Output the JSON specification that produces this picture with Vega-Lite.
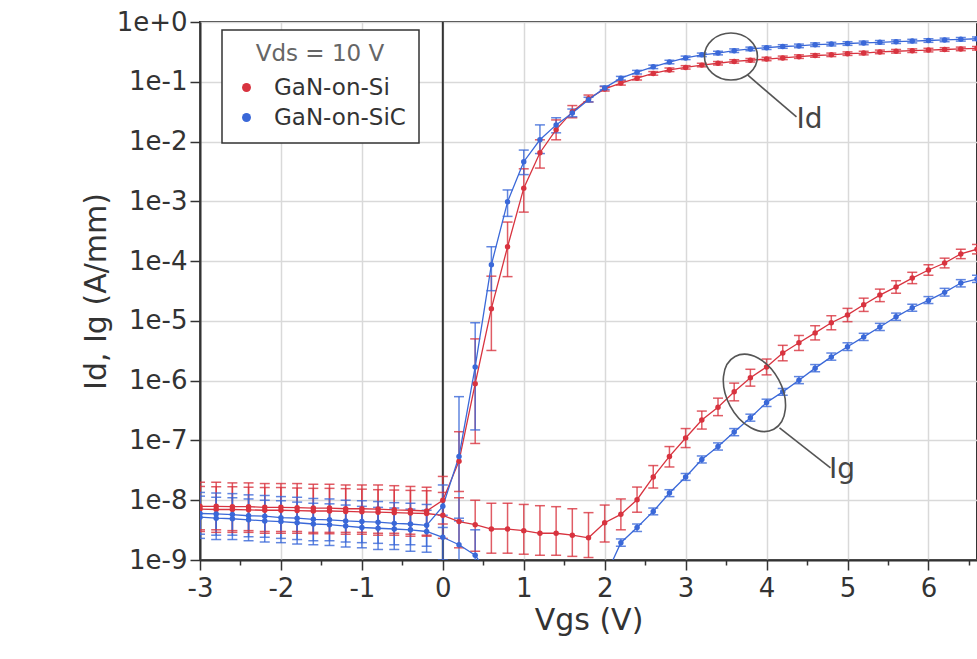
{
  "$schema": "https://vega.github.io/schema/vega-lite/v6.json",
  "autosize": {"type": "none"},
  "padding": {"left": 200, "top": 22, "right": 0, "bottom": 99},
  "width": 777,
  "height": 538,
  "background": "white",
  "config": {
    "font": "DejaVu Sans",
    "view": {"stroke": "#333333", "strokeWidth": 2},
    "axis": {
      "domainColor": "#333333",
      "domainWidth": 2,
      "tickColor": "#333333",
      "tickWidth": 1.5,
      "gridColor": "#d9d9d9",
      "gridWidth": 1.5,
      "labelFont": "DejaVu Sans",
      "labelFontSize": 26,
      "labelColor": "#333333",
      "titleFont": "DejaVu Sans",
      "titleFontSize": 30,
      "titleFontWeight": "normal",
      "titleColor": "#333333",
      "labelOverlap": false
    },
    "legend": {
      "fillColor": "white",
      "strokeColor": "#333333",
      "strokeWidth": 1.5,
      "padding": 13,
      "titleFont": "DejaVu Sans",
      "titleFontSize": 23,
      "titleFontWeight": "normal",
      "titleColor": "#666666",
      "titleAnchor": "middle",
      "titleAlign": "center",
      "titlePadding": 10,
      "labelFont": "DejaVu Sans",
      "labelFontSize": 23,
      "labelColor": "#333333",
      "labelOffset": 16,
      "rowPadding": 6,
      "symbolSize": 80,
      "symbolStrokeWidth": 0,
      "symbolOpacity": 1
    }
  },
  "datasets": {
    "iv": [
      {"v": -3, "s": "GaN-on-Si", "q": "Id", "i": 7.9e-9, "lo": 3.2e-9, "hi": 2.0e-8},
      {"v": -2.8, "s": "GaN-on-Si", "q": "Id", "i": 7.9e-9, "lo": 3.2e-9, "hi": 2.0e-8},
      {"v": -2.6, "s": "GaN-on-Si", "q": "Id", "i": 7.8e-9, "lo": 3.1e-9, "hi": 1.95e-8},
      {"v": -2.4, "s": "GaN-on-Si", "q": "Id", "i": 7.8e-9, "lo": 3.1e-9, "hi": 1.95e-8},
      {"v": -2.2, "s": "GaN-on-Si", "q": "Id", "i": 7.6e-9, "lo": 3.0e-9, "hi": 1.9e-8},
      {"v": -2, "s": "GaN-on-Si", "q": "Id", "i": 7.6e-9, "lo": 3.0e-9, "hi": 1.9e-8},
      {"v": -1.8, "s": "GaN-on-Si", "q": "Id", "i": 7.5e-9, "lo": 3.0e-9, "hi": 1.9e-8},
      {"v": -1.6, "s": "GaN-on-Si", "q": "Id", "i": 7.4e-9, "lo": 2.9e-9, "hi": 1.85e-8},
      {"v": -1.4, "s": "GaN-on-Si", "q": "Id", "i": 7.4e-9, "lo": 2.9e-9, "hi": 1.85e-8},
      {"v": -1.2, "s": "GaN-on-Si", "q": "Id", "i": 7.2e-9, "lo": 2.9e-9, "hi": 1.8e-8},
      {"v": -1, "s": "GaN-on-Si", "q": "Id", "i": 7.2e-9, "lo": 2.9e-9, "hi": 1.8e-8},
      {"v": -0.8, "s": "GaN-on-Si", "q": "Id", "i": 7.1e-9, "lo": 2.8e-9, "hi": 1.8e-8},
      {"v": -0.6, "s": "GaN-on-Si", "q": "Id", "i": 6.9e-9, "lo": 2.8e-9, "hi": 1.75e-8},
      {"v": -0.4, "s": "GaN-on-Si", "q": "Id", "i": 6.8e-9, "lo": 2.7e-9, "hi": 1.7e-8},
      {"v": -0.2, "s": "GaN-on-Si", "q": "Id", "i": 6.6e-9, "lo": 2.6e-9, "hi": 1.65e-8},
      {"v": 0, "s": "GaN-on-Si", "q": "Id", "i": 1.0e-8, "lo": 4.0e-9, "hi": 2.5e-8},
      {"v": 0.2, "s": "GaN-on-Si", "q": "Id", "i": 4.5e-8, "lo": 1.4e-8, "hi": 1.4e-7},
      {"v": 0.4, "s": "GaN-on-Si", "q": "Id", "i": 8.9e-7, "lo": 8.9e-8, "hi": 5.0e-6},
      {"v": 0.6, "s": "GaN-on-Si", "q": "Id", "i": 1.6e-5, "lo": 3.2e-6, "hi": 5.6e-5},
      {"v": 0.8, "s": "GaN-on-Si", "q": "Id", "i": 1.74e-4, "lo": 5.5e-5, "hi": 4.5e-4},
      {"v": 1, "s": "GaN-on-Si", "q": "Id", "i": 1.66e-3, "lo": 6.6e-4, "hi": 3.5e-3},
      {"v": 1.2, "s": "GaN-on-Si", "q": "Id", "i": 6.5e-3, "lo": 3.6e-3, "hi": 1.07e-2},
      {"v": 1.4, "s": "GaN-on-Si", "q": "Id", "i": 1.58e-2, "lo": 1.07e-2, "hi": 2.3e-2},
      {"v": 1.6, "s": "GaN-on-Si", "q": "Id", "i": 3.16e-2, "lo": 2.5e-2, "hi": 4.0e-2},
      {"v": 1.8, "s": "GaN-on-Si", "q": "Id", "i": 5.2e-2, "lo": 4.6e-2, "hi": 6.0e-2},
      {"v": 2, "s": "GaN-on-Si", "q": "Id", "i": 7.6e-2, "lo": 7.0e-2, "hi": 8.3e-2},
      {"v": 2.2, "s": "GaN-on-Si", "q": "Id", "i": 9.5e-2, "lo": 8.8e-2, "hi": 0.103},
      {"v": 2.4, "s": "GaN-on-Si", "q": "Id", "i": 0.115, "lo": 0.107, "hi": 0.123},
      {"v": 2.6, "s": "GaN-on-Si", "q": "Id", "i": 0.138, "lo": 0.129, "hi": 0.148},
      {"v": 2.8, "s": "GaN-on-Si", "q": "Id", "i": 0.158, "lo": 0.148, "hi": 0.17},
      {"v": 3, "s": "GaN-on-Si", "q": "Id", "i": 0.174, "lo": 0.163, "hi": 0.186},
      {"v": 3.2, "s": "GaN-on-Si", "q": "Id", "i": 0.19, "lo": 0.178, "hi": 0.204},
      {"v": 3.4, "s": "GaN-on-Si", "q": "Id", "i": 0.204, "lo": 0.191, "hi": 0.218},
      {"v": 3.6, "s": "GaN-on-Si", "q": "Id", "i": 0.219, "lo": 0.205, "hi": 0.234},
      {"v": 3.8, "s": "GaN-on-Si", "q": "Id", "i": 0.229, "lo": 0.214, "hi": 0.245},
      {"v": 4, "s": "GaN-on-Si", "q": "Id", "i": 0.24, "lo": 0.225, "hi": 0.257},
      {"v": 4.2, "s": "GaN-on-Si", "q": "Id", "i": 0.251, "lo": 0.235, "hi": 0.269},
      {"v": 4.4, "s": "GaN-on-Si", "q": "Id", "i": 0.263, "lo": 0.246, "hi": 0.282},
      {"v": 4.6, "s": "GaN-on-Si", "q": "Id", "i": 0.275, "lo": 0.257, "hi": 0.295},
      {"v": 4.8, "s": "GaN-on-Si", "q": "Id", "i": 0.282, "lo": 0.264, "hi": 0.302},
      {"v": 5, "s": "GaN-on-Si", "q": "Id", "i": 0.295, "lo": 0.276, "hi": 0.316},
      {"v": 5.2, "s": "GaN-on-Si", "q": "Id", "i": 0.302, "lo": 0.282, "hi": 0.324},
      {"v": 5.4, "s": "GaN-on-Si", "q": "Id", "i": 0.316, "lo": 0.295, "hi": 0.339},
      {"v": 5.6, "s": "GaN-on-Si", "q": "Id", "i": 0.324, "lo": 0.302, "hi": 0.347},
      {"v": 5.8, "s": "GaN-on-Si", "q": "Id", "i": 0.331, "lo": 0.309, "hi": 0.355},
      {"v": 6, "s": "GaN-on-Si", "q": "Id", "i": 0.339, "lo": 0.316, "hi": 0.363},
      {"v": 6.2, "s": "GaN-on-Si", "q": "Id", "i": 0.347, "lo": 0.324, "hi": 0.372},
      {"v": 6.4, "s": "GaN-on-Si", "q": "Id", "i": 0.355, "lo": 0.331, "hi": 0.38},
      {"v": 6.6, "s": "GaN-on-Si", "q": "Id", "i": 0.363, "lo": 0.339, "hi": 0.389},

      {"v": -3, "s": "GaN-on-Si", "q": "Ig", "i": 7.1e-9, "lo": 3.0e-9, "hi": 1.7e-8},
      {"v": -2.8, "s": "GaN-on-Si", "q": "Ig", "i": 7.0e-9, "lo": 2.9e-9, "hi": 1.68e-8},
      {"v": -2.6, "s": "GaN-on-Si", "q": "Ig", "i": 7.0e-9, "lo": 2.9e-9, "hi": 1.68e-8},
      {"v": -2.4, "s": "GaN-on-Si", "q": "Ig", "i": 6.9e-9, "lo": 2.9e-9, "hi": 1.65e-8},
      {"v": -2.2, "s": "GaN-on-Si", "q": "Ig", "i": 6.8e-9, "lo": 2.8e-9, "hi": 1.63e-8},
      {"v": -2, "s": "GaN-on-Si", "q": "Ig", "i": 6.8e-9, "lo": 2.8e-9, "hi": 1.63e-8},
      {"v": -1.8, "s": "GaN-on-Si", "q": "Ig", "i": 6.7e-9, "lo": 2.8e-9, "hi": 1.6e-8},
      {"v": -1.6, "s": "GaN-on-Si", "q": "Ig", "i": 6.6e-9, "lo": 2.75e-9, "hi": 1.58e-8},
      {"v": -1.4, "s": "GaN-on-Si", "q": "Ig", "i": 6.6e-9, "lo": 2.75e-9, "hi": 1.58e-8},
      {"v": -1.2, "s": "GaN-on-Si", "q": "Ig", "i": 6.5e-9, "lo": 2.7e-9, "hi": 1.56e-8},
      {"v": -1, "s": "GaN-on-Si", "q": "Ig", "i": 6.4e-9, "lo": 2.7e-9, "hi": 1.53e-8},
      {"v": -0.8, "s": "GaN-on-Si", "q": "Ig", "i": 6.3e-9, "lo": 2.6e-9, "hi": 1.5e-8},
      {"v": -0.6, "s": "GaN-on-Si", "q": "Ig", "i": 6.2e-9, "lo": 2.6e-9, "hi": 1.48e-8},
      {"v": -0.4, "s": "GaN-on-Si", "q": "Ig", "i": 6.1e-9, "lo": 2.5e-9, "hi": 1.46e-8},
      {"v": -0.2, "s": "GaN-on-Si", "q": "Ig", "i": 6.0e-9, "lo": 2.5e-9, "hi": 1.44e-8},
      {"v": 0, "s": "GaN-on-Si", "q": "Ig", "i": 5.6e-9, "lo": 2.3e-9, "hi": 1.35e-8},
      {"v": 0.2, "s": "GaN-on-Si", "q": "Ig", "i": 4.4e-9, "lo": 1.6e-9, "hi": 1.1e-8},
      {"v": 0.4, "s": "GaN-on-Si", "q": "Ig", "i": 3.9e-9, "lo": 1.4e-9, "hi": 1.0e-8},
      {"v": 0.6, "s": "GaN-on-Si", "q": "Ig", "i": 3.3e-9, "lo": 1.3e-9, "hi": 8.9e-9},
      {"v": 0.8, "s": "GaN-on-Si", "q": "Ig", "i": 3.3e-9, "lo": 1.3e-9, "hi": 8.9e-9},
      {"v": 1, "s": "GaN-on-Si", "q": "Ig", "i": 3.1e-9, "lo": 1.25e-9, "hi": 8.5e-9},
      {"v": 1.2, "s": "GaN-on-Si", "q": "Ig", "i": 2.8e-9, "lo": 1.2e-9, "hi": 8.1e-9},
      {"v": 1.4, "s": "GaN-on-Si", "q": "Ig", "i": 2.8e-9, "lo": 1.2e-9, "hi": 7.8e-9},
      {"v": 1.6, "s": "GaN-on-Si", "q": "Ig", "i": 2.6e-9, "lo": 1.15e-9, "hi": 7.2e-9},
      {"v": 1.8, "s": "GaN-on-Si", "q": "Ig", "i": 2.35e-9, "lo": 1.1e-9, "hi": 6.2e-9},
      {"v": 2, "s": "GaN-on-Si", "q": "Ig", "i": 4.2e-9, "lo": 2.0e-9, "hi": 8.3e-9},
      {"v": 2.2, "s": "GaN-on-Si", "q": "Ig", "i": 5.8e-9, "lo": 3.2e-9, "hi": 1.05e-8},
      {"v": 2.4, "s": "GaN-on-Si", "q": "Ig", "i": 1.02e-8, "lo": 6.3e-9, "hi": 1.66e-8},
      {"v": 2.6, "s": "GaN-on-Si", "q": "Ig", "i": 2.45e-8, "lo": 1.6e-8, "hi": 3.8e-8},
      {"v": 2.8, "s": "GaN-on-Si", "q": "Ig", "i": 5.4e-8, "lo": 3.6e-8, "hi": 7.9e-8},
      {"v": 3, "s": "GaN-on-Si", "q": "Ig", "i": 1.1e-7, "lo": 7.6e-8, "hi": 1.58e-7},
      {"v": 3.2, "s": "GaN-on-Si", "q": "Ig", "i": 2.2e-7, "lo": 1.55e-7, "hi": 3.1e-7},
      {"v": 3.4, "s": "GaN-on-Si", "q": "Ig", "i": 3.6e-7, "lo": 2.6e-7, "hi": 5.1e-7},
      {"v": 3.6, "s": "GaN-on-Si", "q": "Ig", "i": 6.5e-7, "lo": 4.6e-7, "hi": 9.1e-7},
      {"v": 3.8, "s": "GaN-on-Si", "q": "Ig", "i": 1.12e-6, "lo": 8.1e-7, "hi": 1.55e-6},
      {"v": 4, "s": "GaN-on-Si", "q": "Ig", "i": 1.7e-6, "lo": 1.25e-6, "hi": 2.3e-6},
      {"v": 4.2, "s": "GaN-on-Si", "q": "Ig", "i": 2.9e-6, "lo": 2.15e-6, "hi": 3.9e-6},
      {"v": 4.4, "s": "GaN-on-Si", "q": "Ig", "i": 4.3e-6, "lo": 3.2e-6, "hi": 5.7e-6},
      {"v": 4.6, "s": "GaN-on-Si", "q": "Ig", "i": 6.3e-6, "lo": 4.8e-6, "hi": 8.3e-6},
      {"v": 4.8, "s": "GaN-on-Si", "q": "Ig", "i": 9.3e-6, "lo": 7.1e-6, "hi": 1.22e-5},
      {"v": 5, "s": "GaN-on-Si", "q": "Ig", "i": 1.26e-5, "lo": 9.7e-6, "hi": 1.62e-5},
      {"v": 5.2, "s": "GaN-on-Si", "q": "Ig", "i": 1.86e-5, "lo": 1.44e-5, "hi": 2.4e-5},
      {"v": 5.4, "s": "GaN-on-Si", "q": "Ig", "i": 2.7e-5, "lo": 2.1e-5, "hi": 3.4e-5},
      {"v": 5.6, "s": "GaN-on-Si", "q": "Ig", "i": 3.7e-5, "lo": 2.9e-5, "hi": 4.7e-5},
      {"v": 5.8, "s": "GaN-on-Si", "q": "Ig", "i": 5.2e-5, "lo": 4.2e-5, "hi": 6.5e-5},
      {"v": 6, "s": "GaN-on-Si", "q": "Ig", "i": 7.1e-5, "lo": 5.8e-5, "hi": 8.7e-5},
      {"v": 6.2, "s": "GaN-on-Si", "q": "Ig", "i": 9.3e-5, "lo": 7.7e-5, "hi": 1.12e-4},
      {"v": 6.4, "s": "GaN-on-Si", "q": "Ig", "i": 1.32e-4, "lo": 1.1e-4, "hi": 1.58e-4},
      {"v": 6.6, "s": "GaN-on-Si", "q": "Ig", "i": 1.58e-4, "lo": 1.32e-4, "hi": 1.9e-4},

      {"v": -3, "s": "GaN-on-SiC", "q": "Id", "i": 6.0e-9, "lo": 2.7e-9, "hi": 1.35e-8},
      {"v": -2.8, "s": "GaN-on-SiC", "q": "Id", "i": 5.9e-9, "lo": 2.6e-9, "hi": 1.32e-8},
      {"v": -2.6, "s": "GaN-on-SiC", "q": "Id", "i": 5.75e-9, "lo": 2.6e-9, "hi": 1.29e-8},
      {"v": -2.4, "s": "GaN-on-SiC", "q": "Id", "i": 5.5e-9, "lo": 2.45e-9, "hi": 1.23e-8},
      {"v": -2.2, "s": "GaN-on-SiC", "q": "Id", "i": 5.4e-9, "lo": 2.4e-9, "hi": 1.2e-8},
      {"v": -2, "s": "GaN-on-SiC", "q": "Id", "i": 5.1e-9, "lo": 2.3e-9, "hi": 1.15e-8},
      {"v": -1.8, "s": "GaN-on-SiC", "q": "Id", "i": 5.0e-9, "lo": 2.2e-9, "hi": 1.12e-8},
      {"v": -1.6, "s": "GaN-on-SiC", "q": "Id", "i": 4.8e-9, "lo": 2.1e-9, "hi": 1.07e-8},
      {"v": -1.4, "s": "GaN-on-SiC", "q": "Id", "i": 4.7e-9, "lo": 2.1e-9, "hi": 1.05e-8},
      {"v": -1.2, "s": "GaN-on-SiC", "q": "Id", "i": 4.5e-9, "lo": 2.0e-9, "hi": 1.0e-8},
      {"v": -1, "s": "GaN-on-SiC", "q": "Id", "i": 4.4e-9, "lo": 1.95e-9, "hi": 9.8e-9},
      {"v": -0.8, "s": "GaN-on-SiC", "q": "Id", "i": 4.3e-9, "lo": 1.9e-9, "hi": 9.5e-9},
      {"v": -0.6, "s": "GaN-on-SiC", "q": "Id", "i": 4.1e-9, "lo": 1.8e-9, "hi": 9.1e-9},
      {"v": -0.4, "s": "GaN-on-SiC", "q": "Id", "i": 4.0e-9, "lo": 1.8e-9, "hi": 8.9e-9},
      {"v": -0.2, "s": "GaN-on-SiC", "q": "Id", "i": 3.8e-9, "lo": 1.7e-9, "hi": 8.5e-9},
      {"v": 0, "s": "GaN-on-SiC", "q": "Id", "i": 7.9e-9, "lo": 3.5e-9, "hi": 1.8e-8},
      {"v": 0.2, "s": "GaN-on-SiC", "q": "Id", "i": 5.4e-8, "lo": 5.0e-9, "hi": 5.4e-7},
      {"v": 0.4, "s": "GaN-on-SiC", "q": "Id", "i": 1.7e-6, "lo": 1.5e-7, "hi": 9.3e-6},
      {"v": 0.6, "s": "GaN-on-SiC", "q": "Id", "i": 8.7e-5, "lo": 3.2e-5, "hi": 1.74e-4},
      {"v": 0.8, "s": "GaN-on-SiC", "q": "Id", "i": 9.8e-4, "lo": 5.6e-4, "hi": 1.55e-3},
      {"v": 1, "s": "GaN-on-SiC", "q": "Id", "i": 4.6e-3, "lo": 2.8e-3, "hi": 7.2e-3},
      {"v": 1.2, "s": "GaN-on-SiC", "q": "Id", "i": 1.07e-2, "lo": 6.3e-3, "hi": 1.9e-2},
      {"v": 1.4, "s": "GaN-on-SiC", "q": "Id", "i": 1.9e-2, "lo": 1.4e-2, "hi": 2.5e-2},
      {"v": 1.6, "s": "GaN-on-SiC", "q": "Id", "i": 3.0e-2, "lo": 2.6e-2, "hi": 3.5e-2},
      {"v": 1.8, "s": "GaN-on-SiC", "q": "Id", "i": 5.0e-2, "lo": 4.6e-2, "hi": 5.5e-2},
      {"v": 2, "s": "GaN-on-SiC", "q": "Id", "i": 7.9e-2, "lo": 7.4e-2, "hi": 8.5e-2},
      {"v": 2.2, "s": "GaN-on-SiC", "q": "Id", "i": 0.115, "lo": 0.107, "hi": 0.123},
      {"v": 2.4, "s": "GaN-on-SiC", "q": "Id", "i": 0.145, "lo": 0.135, "hi": 0.155},
      {"v": 2.6, "s": "GaN-on-SiC", "q": "Id", "i": 0.178, "lo": 0.166, "hi": 0.19},
      {"v": 2.8, "s": "GaN-on-SiC", "q": "Id", "i": 0.214, "lo": 0.2, "hi": 0.229},
      {"v": 3, "s": "GaN-on-SiC", "q": "Id", "i": 0.251, "lo": 0.235, "hi": 0.269},
      {"v": 3.2, "s": "GaN-on-SiC", "q": "Id", "i": 0.282, "lo": 0.264, "hi": 0.302},
      {"v": 3.4, "s": "GaN-on-SiC", "q": "Id", "i": 0.302, "lo": 0.282, "hi": 0.324},
      {"v": 3.6, "s": "GaN-on-SiC", "q": "Id", "i": 0.331, "lo": 0.309, "hi": 0.355},
      {"v": 3.8, "s": "GaN-on-SiC", "q": "Id", "i": 0.355, "lo": 0.331, "hi": 0.38},
      {"v": 4, "s": "GaN-on-SiC", "q": "Id", "i": 0.372, "lo": 0.347, "hi": 0.398},
      {"v": 4.2, "s": "GaN-on-SiC", "q": "Id", "i": 0.389, "lo": 0.363, "hi": 0.417},
      {"v": 4.4, "s": "GaN-on-SiC", "q": "Id", "i": 0.398, "lo": 0.372, "hi": 0.427},
      {"v": 4.6, "s": "GaN-on-SiC", "q": "Id", "i": 0.417, "lo": 0.389, "hi": 0.447},
      {"v": 4.8, "s": "GaN-on-SiC", "q": "Id", "i": 0.427, "lo": 0.398, "hi": 0.457},
      {"v": 5, "s": "GaN-on-SiC", "q": "Id", "i": 0.437, "lo": 0.407, "hi": 0.468},
      {"v": 5.2, "s": "GaN-on-SiC", "q": "Id", "i": 0.447, "lo": 0.417, "hi": 0.479},
      {"v": 5.4, "s": "GaN-on-SiC", "q": "Id", "i": 0.457, "lo": 0.427, "hi": 0.49},
      {"v": 5.6, "s": "GaN-on-SiC", "q": "Id", "i": 0.468, "lo": 0.437, "hi": 0.501},
      {"v": 5.8, "s": "GaN-on-SiC", "q": "Id", "i": 0.479, "lo": 0.447, "hi": 0.513},
      {"v": 6, "s": "GaN-on-SiC", "q": "Id", "i": 0.49, "lo": 0.457, "hi": 0.525},
      {"v": 6.2, "s": "GaN-on-SiC", "q": "Id", "i": 0.501, "lo": 0.468, "hi": 0.537},
      {"v": 6.4, "s": "GaN-on-SiC", "q": "Id", "i": 0.513, "lo": 0.479, "hi": 0.55},
      {"v": 6.6, "s": "GaN-on-SiC", "q": "Id", "i": 0.525, "lo": 0.49, "hi": 0.562},

      {"v": -3, "s": "GaN-on-SiC", "q": "Ig", "i": 5.2e-9, "lo": 2.3e-9, "hi": 1.17e-8},
      {"v": -2.8, "s": "GaN-on-SiC", "q": "Ig", "i": 5.0e-9, "lo": 2.2e-9, "hi": 1.12e-8},
      {"v": -2.6, "s": "GaN-on-SiC", "q": "Ig", "i": 4.9e-9, "lo": 2.2e-9, "hi": 1.1e-8},
      {"v": -2.4, "s": "GaN-on-SiC", "q": "Ig", "i": 4.7e-9, "lo": 2.1e-9, "hi": 1.05e-8},
      {"v": -2.2, "s": "GaN-on-SiC", "q": "Ig", "i": 4.5e-9, "lo": 2.0e-9, "hi": 1.0e-8},
      {"v": -2, "s": "GaN-on-SiC", "q": "Ig", "i": 4.4e-9, "lo": 1.95e-9, "hi": 9.8e-9},
      {"v": -1.8, "s": "GaN-on-SiC", "q": "Ig", "i": 4.2e-9, "lo": 1.85e-9, "hi": 9.3e-9},
      {"v": -1.6, "s": "GaN-on-SiC", "q": "Ig", "i": 4.0e-9, "lo": 1.8e-9, "hi": 8.9e-9},
      {"v": -1.4, "s": "GaN-on-SiC", "q": "Ig", "i": 3.9e-9, "lo": 1.75e-9, "hi": 8.7e-9},
      {"v": -1.2, "s": "GaN-on-SiC", "q": "Ig", "i": 3.7e-9, "lo": 1.65e-9, "hi": 8.3e-9},
      {"v": -1, "s": "GaN-on-SiC", "q": "Ig", "i": 3.5e-9, "lo": 1.6e-9, "hi": 7.9e-9},
      {"v": -0.8, "s": "GaN-on-SiC", "q": "Ig", "i": 3.4e-9, "lo": 1.5e-9, "hi": 7.6e-9},
      {"v": -0.6, "s": "GaN-on-SiC", "q": "Ig", "i": 3.3e-9, "lo": 1.5e-9, "hi": 7.4e-9},
      {"v": -0.4, "s": "GaN-on-SiC", "q": "Ig", "i": 3.2e-9, "lo": 1.4e-9, "hi": 7.1e-9},
      {"v": -0.2, "s": "GaN-on-SiC", "q": "Ig", "i": 3.0e-9, "lo": 1.35e-9, "hi": 6.8e-9},
      {"v": 0, "s": "GaN-on-SiC", "q": "Ig", "i": 2.4e-9, "lo": 1.0e-9, "hi": 5.6e-9},
      {"v": 0.2, "s": "GaN-on-SiC", "q": "Ig", "i": 1.8e-9, "lo": 7.0e-10, "hi": 4.5e-9},
      {"v": 0.4, "s": "GaN-on-SiC", "q": "Ig", "i": 1.2e-9, "lo": 4.0e-10, "hi": 3.2e-9},
      {"v": 0.6, "s": "GaN-on-SiC", "q": "Ig", "i": 5.0e-10, "lo": 2.0e-10, "hi": 9.5e-10},
      {"v": 0.8, "s": "GaN-on-SiC", "q": "Ig", "i": 4.0e-10, "lo": 1.6e-10, "hi": 8.0e-10},
      {"v": 1, "s": "GaN-on-SiC", "q": "Ig", "i": 3.5e-10, "lo": 1.4e-10, "hi": 7.0e-10},
      {"v": 1.2, "s": "GaN-on-SiC", "q": "Ig", "i": 3.2e-10, "lo": 1.3e-10, "hi": 6.5e-10},
      {"v": 1.4, "s": "GaN-on-SiC", "q": "Ig", "i": 3.0e-10, "lo": 1.2e-10, "hi": 6.0e-10},
      {"v": 1.6, "s": "GaN-on-SiC", "q": "Ig", "i": 3.0e-10, "lo": 1.2e-10, "hi": 6.0e-10},
      {"v": 1.8, "s": "GaN-on-SiC", "q": "Ig", "i": 3.2e-10, "lo": 1.3e-10, "hi": 6.5e-10},
      {"v": 2, "s": "GaN-on-SiC", "q": "Ig", "i": 5.0e-10, "lo": 3.0e-10, "hi": 8.0e-10},
      {"v": 2.2, "s": "GaN-on-SiC", "q": "Ig", "i": 1.95e-9, "lo": 1.7e-9, "hi": 2.25e-9},
      {"v": 2.4, "s": "GaN-on-SiC", "q": "Ig", "i": 3.5e-9, "lo": 3.0e-9, "hi": 4.0e-9},
      {"v": 2.6, "s": "GaN-on-SiC", "q": "Ig", "i": 6.5e-9, "lo": 5.7e-9, "hi": 7.4e-9},
      {"v": 2.8, "s": "GaN-on-SiC", "q": "Ig", "i": 1.32e-8, "lo": 1.15e-8, "hi": 1.5e-8},
      {"v": 3, "s": "GaN-on-SiC", "q": "Ig", "i": 2.45e-8, "lo": 2.15e-8, "hi": 2.8e-8},
      {"v": 3.2, "s": "GaN-on-SiC", "q": "Ig", "i": 4.8e-8, "lo": 4.2e-8, "hi": 5.5e-8},
      {"v": 3.4, "s": "GaN-on-SiC", "q": "Ig", "i": 7.9e-8, "lo": 6.9e-8, "hi": 9.1e-8},
      {"v": 3.6, "s": "GaN-on-SiC", "q": "Ig", "i": 1.38e-7, "lo": 1.2e-7, "hi": 1.58e-7},
      {"v": 3.8, "s": "GaN-on-SiC", "q": "Ig", "i": 2.4e-7, "lo": 2.1e-7, "hi": 2.75e-7},
      {"v": 4, "s": "GaN-on-SiC", "q": "Ig", "i": 4.3e-7, "lo": 3.7e-7, "hi": 4.9e-7},
      {"v": 4.2, "s": "GaN-on-SiC", "q": "Ig", "i": 6.5e-7, "lo": 5.7e-7, "hi": 7.4e-7},
      {"v": 4.4, "s": "GaN-on-SiC", "q": "Ig", "i": 1.02e-6, "lo": 8.9e-7, "hi": 1.17e-6},
      {"v": 4.6, "s": "GaN-on-SiC", "q": "Ig", "i": 1.62e-6, "lo": 1.41e-6, "hi": 1.86e-6},
      {"v": 4.8, "s": "GaN-on-SiC", "q": "Ig", "i": 2.5e-6, "lo": 2.2e-6, "hi": 2.9e-6},
      {"v": 5, "s": "GaN-on-SiC", "q": "Ig", "i": 3.7e-6, "lo": 3.2e-6, "hi": 4.3e-6},
      {"v": 5.2, "s": "GaN-on-SiC", "q": "Ig", "i": 5.4e-6, "lo": 4.7e-6, "hi": 6.2e-6},
      {"v": 5.4, "s": "GaN-on-SiC", "q": "Ig", "i": 7.9e-6, "lo": 6.9e-6, "hi": 9.1e-6},
      {"v": 5.6, "s": "GaN-on-SiC", "q": "Ig", "i": 1.17e-5, "lo": 1.02e-5, "hi": 1.35e-5},
      {"v": 5.8, "s": "GaN-on-SiC", "q": "Ig", "i": 1.66e-5, "lo": 1.45e-5, "hi": 1.9e-5},
      {"v": 6, "s": "GaN-on-SiC", "q": "Ig", "i": 2.2e-5, "lo": 1.95e-5, "hi": 2.55e-5},
      {"v": 6.2, "s": "GaN-on-SiC", "q": "Ig", "i": 3.0e-5, "lo": 2.6e-5, "hi": 3.5e-5},
      {"v": 6.4, "s": "GaN-on-SiC", "q": "Ig", "i": 4.3e-5, "lo": 3.7e-5, "hi": 4.9e-5},
      {"v": 6.6, "s": "GaN-on-SiC", "q": "Ig", "i": 5.0e-5, "lo": 4.4e-5, "hi": 5.8e-5}
    ]
  },
  "encoding": {
    "x": {
      "field": "v",
      "type": "quantitative",
      "scale": {"domain": [-3, 6.6], "nice": false, "zero": false},
      "axis": {
        "title": "Vgs (V)",
        "values": [-3, -2.5, -2, -1.5, -1, -0.5, 0, 0.5, 1, 1.5, 2, 2.5, 3, 3.5, 4, 4.5, 5, 5.5, 6, 6.5],
        "labelExpr": "datum.value % 1 === 0 ? '' + datum.value : ''",
        "labelFlush": false,
        "tickSize": {"condition": {"test": "datum.value % 1 !== 0", "value": 5}, "value": 10},
        "gridOpacity": {"condition": {"test": "datum.value % 1 !== 0", "value": 0}, "value": 1},
        "labelPadding": 5,
        "titlePadding": 4
      }
    }
  },
  "layer": [
    {
      "description": "vertical line at Vgs = 0",
      "data": {"values": [{"v": 0}]},
      "mark": {"type": "rule", "color": "#333333", "strokeWidth": 2},
      "encoding": {}
    },
    {
      "description": "error bar stems",
      "data": {"name": "iv"},
      "mark": {"type": "rule", "strokeWidth": 1.5, "opacity": 0.8, "clip": true},
      "encoding": {
        "y": {"field": "lo", "type": "quantitative", "title": "Id, Ig (A/mm)", "scale": {"type": "log", "domain": [1e-9, 1], "nice": false}},
        "y2": {"field": "hi"},
        "color": {"field": "s", "type": "nominal", "title": "Vds = 10 V", "scale": {"domain": ["GaN-on-Si", "GaN-on-SiC"], "range": ["#d8333f", "#3a68d8"]}}
      }
    },
    {
      "description": "lower caps",
      "data": {"name": "iv"},
      "mark": {"type": "tick", "orient": "horizontal", "size": 10, "thickness": 1.5, "opacity": 0.8, "clip": true},
      "encoding": {
        "y": {"field": "lo", "type": "quantitative", "title": "Id, Ig (A/mm)", "scale": {"type": "log", "domain": [1e-9, 1], "nice": false}},
        "color": {"field": "s", "type": "nominal", "title": "Vds = 10 V", "scale": {"domain": ["GaN-on-Si", "GaN-on-SiC"], "range": ["#d8333f", "#3a68d8"]}}
      }
    },
    {
      "description": "upper caps",
      "data": {"name": "iv"},
      "mark": {"type": "tick", "orient": "horizontal", "size": 10, "thickness": 1.5, "opacity": 0.8, "clip": true},
      "encoding": {
        "y": {"field": "hi", "type": "quantitative", "title": "Id, Ig (A/mm)", "scale": {"type": "log", "domain": [1e-9, 1], "nice": false}},
        "color": {"field": "s", "type": "nominal", "title": "Vds = 10 V", "scale": {"domain": ["GaN-on-Si", "GaN-on-SiC"], "range": ["#d8333f", "#3a68d8"]}}
      }
    },
    {
      "description": "Id and Ig curves",
      "data": {"name": "iv"},
      "mark": {"type": "line", "strokeWidth": 1.3, "clip": true},
      "encoding": {
        "y": {
          "field": "i",
          "type": "quantitative",
          "title": "Id, Ig (A/mm)",
          "scale": {"type": "log", "domain": [1e-9, 1], "nice": false},
          "axis": {
            "values": [1e-9, 1e-8, 1e-7, 1e-6, 1e-5, 1e-4, 1e-3, 1e-2, 1e-1, 1],
            "labelExpr": "datum.value >= 1 ? '1e+0' : '1e' + round(log(datum.value) / LN10)",
            "tickSize": 10,
            "labelPadding": 3,
            "titlePadding": 5
          }
        },
        "color": {"field": "s", "type": "nominal", "title": "Vds = 10 V", "scale": {"domain": ["GaN-on-Si", "GaN-on-SiC"], "range": ["#d8333f", "#3a68d8"]}},
        "detail": {"field": "q", "type": "nominal"}
      }
    },
    {
      "description": "measured points",
      "data": {"name": "iv"},
      "mark": {"type": "point", "filled": true, "shape": "circle", "size": 30, "opacity": 1, "clip": true},
      "encoding": {
        "y": {"field": "i", "type": "quantitative", "title": "Id, Ig (A/mm)", "scale": {"type": "log", "domain": [1e-9, 1], "nice": false}},
        "color": {
          "field": "s",
          "type": "nominal",
          "title": "Vds = 10 V",
          "scale": {"domain": ["GaN-on-Si", "GaN-on-SiC"], "range": ["#d8333f", "#3a68d8"]},
          "legend": {"orient": "none", "legendX": 22, "legendY": 8, "symbolType": "circle"}
        }
      }
    },
    {
      "description": "ellipse marking the Id curves",
      "data": {"values": [{"v": 3.56, "i": 0.265}]},
      "mark": {"type": "point", "shape": "M-1,0A1,0.887,0,1,1,1,0A1,0.887,0,1,1,-1,0Z", "size": 2809, "filled": false, "stroke": "#555555", "strokeWidth": 1.6, "opacity": 1},
      "encoding": {
        "y": {"field": "i", "type": "quantitative", "title": "Id, Ig (A/mm)", "scale": {"type": "log", "domain": [1e-9, 1], "nice": false}}
      }
    },
    {
      "description": "ellipse marking the Ig curves",
      "data": {"values": [{"v": 3.85, "i": 6.25e-7}]},
      "mark": {"type": "point", "shape": "M-1,0A1,0.67,0,1,1,1,0A1,0.67,0,1,1,-1,0Z", "size": 6790, "angle": 62, "filled": false, "stroke": "#555555", "strokeWidth": 1.6, "opacity": 1},
      "encoding": {
        "y": {"field": "i", "type": "quantitative", "title": "Id, Ig (A/mm)", "scale": {"type": "log", "domain": [1e-9, 1], "nice": false}}
      }
    },
    {
      "description": "leader lines from the ellipses to their labels",
      "data": {"values": [
        {"v": 3.765, "v2": 4.37, "i": 0.13, "i2": 0.0258},
        {"v": 4.16, "v2": 4.79, "i": 1.62e-7, "i2": 3.48e-8}
      ]},
      "mark": {"type": "rule", "color": "#555555", "strokeWidth": 1.6},
      "encoding": {
        "x2": {"field": "v2"},
        "y": {"field": "i", "type": "quantitative", "title": "Id, Ig (A/mm)", "scale": {"type": "log", "domain": [1e-9, 1], "nice": false}},
        "y2": {"field": "i2"}
      }
    },
    {
      "description": "curve labels",
      "data": {"values": [
        {"v": 4.37, "i": 0.023, "label": "Id"},
        {"v": 4.77, "i": 3.2e-8, "label": "Ig"}
      ]},
      "mark": {"type": "text", "align": "left", "baseline": "middle", "font": "DejaVu Sans", "fontSize": 28, "color": "#444444"},
      "encoding": {
        "y": {"field": "i", "type": "quantitative", "title": "Id, Ig (A/mm)", "scale": {"type": "log", "domain": [1e-9, 1], "nice": false}},
        "text": {"field": "label"}
      }
    }
  ]
}
